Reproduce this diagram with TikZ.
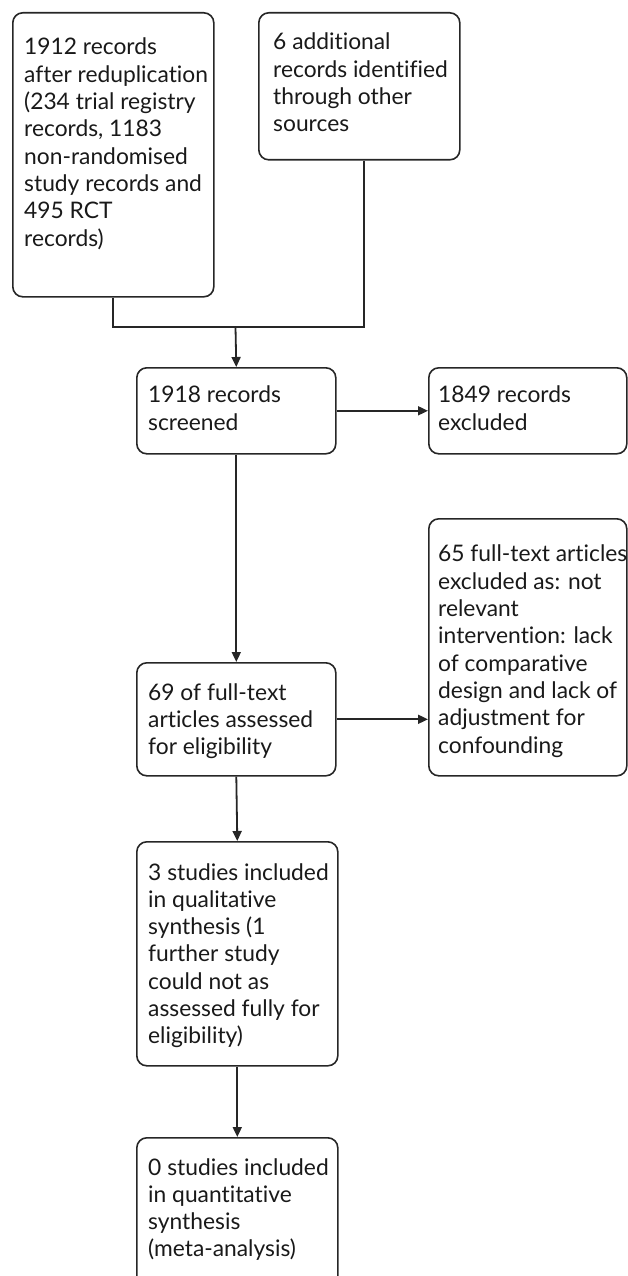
\documentclass[tikz,border=0pt]{standalone}
\usepackage{fontspec}
\setmainfont{Lato}[Ligatures={NoCommon}]
\usetikzlibrary{arrows.meta,positioning}

\tikzset{
  rbox/.style={draw=black!85, line width=1.6pt, rounded corners=10pt,
    anchor=north west, inner sep=0pt},
  btxt/.style={anchor=north west, align=left, inner sep=0pt,
    text=black!90, font=\fontsize{22.8}{27.3}\selectfont},
  conn/.style={draw=black!85, line width=1.8pt},
  arr/.style={conn, -{Triangle[length=10pt,width=9pt]}}
}

\begin{document}
\begin{tikzpicture}[x=1pt, y=-1pt]
    \useasboundingbox (0,0) rectangle (627,1276);

    % identification
    \node[rbox, minimum width=201pt, minimum height=284pt] (rec) at (12,12) {};
    \node[btxt, below right=26pt and 12pt of rec.north west] (rec-t)
      {1912 records\\after reduplication\\(234 trial registry\\records, 1183\\non-randomised\\study records and\\495 RCT\\records)};
    \node[rbox, minimum width=201pt, minimum height=147pt] (add) at (258,12) {};
    \node[btxt, below right=21pt and 15pt of add.north west] (add-t)
      {6 additional\\records identified\\through other\\sources};

    % screening
    \node[rbox, minimum width=199pt, minimum height=86pt] (scr) at (136,367) {};
    \node[btxt, below right=19pt and 12pt of scr.north west] (scr-t)
      {1918 records\\screened};
    \node[rbox, minimum width=198pt, minimum height=86pt] (exc) at (428,367) {};
    \node[btxt, below right=19pt and 10pt of exc.north west] (exc-t)
      {1849 records\\excluded};

    % eligibility
    \node[rbox, minimum width=199pt, minimum height=113pt] (elig) at (136,662) {};
    \node[btxt, below right=21pt and 12pt of elig.north west] (elig-t)
      {69 of full-text\\articles assessed\\for eligibility};
    \node[rbox, minimum width=198pt, minimum height=257pt] (ful) at (428,518) {};
    \node[btxt, below right=27pt and 10pt of ful.north west] (ful-t)
      {65 full-text articles\\excluded as: not\\relevant\\intervention: lack\\of comparative\\design and lack of\\adjustment for\\confounding};

    % included
    \node[rbox, minimum width=201pt, minimum height=224pt] (qual) at (136,841) {};
    \node[btxt, below right=22pt and 12pt of qual.north west] (qual-t)
      {3 studies included\\in qualitative\\synthesis (1\\further study\\could not as\\assessed fully for\\eligibility)};
    \node[rbox, minimum width=201pt, minimum height=160pt] (quan) at (136,1137) {};
    \node[btxt, below right=21pt and 12pt of quan.north west] (quan-t)
      {0 studies included\\in quantitative\\synthesis\\(meta-analysis)};

    % connectors
    \coordinate (join) at (235.5,327);
    \draw[conn] (rec.south) |- (join);
    \draw[conn] ([xshift=5pt]add.south) |- (join);
    \draw[arr] (join) -- (scr.north);
    \draw[arr] (scr.east) -- (exc.west);
    \draw[arr] (scr.south) -- (elig.north);
    \draw[arr] (elig.east) -- (elig.east -| ful.west);
    \draw[arr] (elig.south) -- (qual.north);
    \draw[arr] (qual.south) -- (quan.north);
\end{tikzpicture}
\end{document}
